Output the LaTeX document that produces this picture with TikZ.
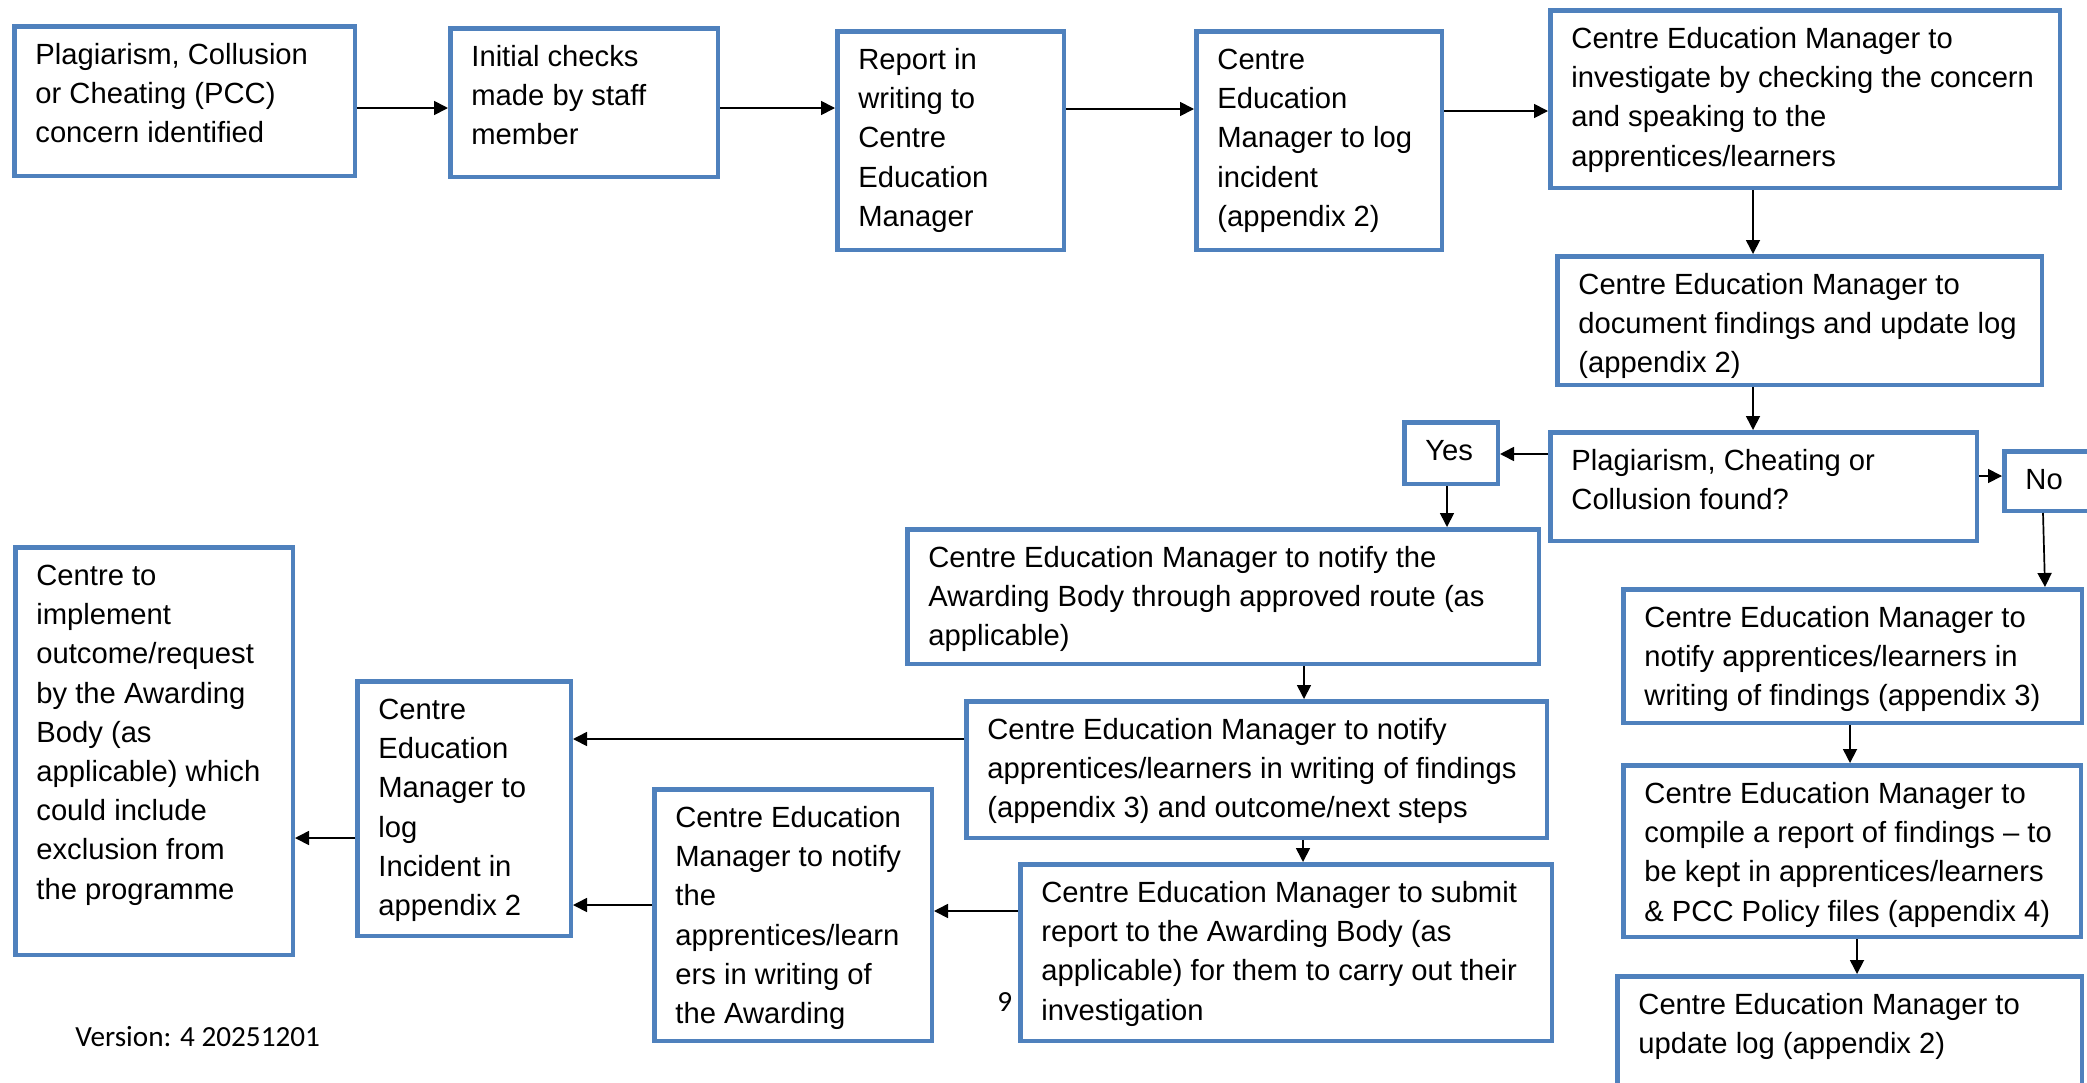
\documentclass[tikz,border=0pt]{standalone}
\usepackage{fontspec}
\setmainfont{Liberation Sans}
\newfontfamily\calib{Carlito}
\usetikzlibrary{arrows.meta,calc}
\definecolor{boxblue}{RGB}{79,129,189}
\tikzset{
 boxst/.style={draw=boxblue, line width=2.25pt, rectangle, inner sep=0pt, fill=white},
 txtst/.style={anchor=north west, inner sep=0pt, align=left, font=\fontsize{14.6pt}{19.6pt}\selectfont},
 arr/.style={line width=0.85pt, -{Triangle[length=7pt,width=7pt]}},
 smalltxt/.style={anchor=base west, inner sep=0pt, font=\calib\fontsize{14.6pt}{17pt}\selectfont},
}
\newcommand\pbox[6]{%
 \node[boxst, anchor=north west, minimum width={(#4-#2)*0.5pt-2.25pt}, minimum height={(#5-#3)*0.5pt-2.25pt}] (#1) at (#2,#3) {};
 \node[txtst] (#1t) at (#2+23,#3+12.6) {\strut #6};
}
\begin{document}
\begin{tikzpicture}[x=0.5pt,y=-0.5pt]
\useasboundingbox (0,0) rectangle (2087,1082);
\fill[white] (0,0) rectangle (2087,1082);
\clip (0,0) rectangle (2087,1082);

\pbox{b1}{12}{24}{357}{178}{Plagiarism, Collusion\\or Cheating (PCC)\\concern identified}
\pbox{b2}{448}{26}{720}{179}{Initial checks\\made by staff\\member}
\pbox{b3}{835}{29}{1066}{252}{Report in\\writing to\\Centre\\Education\\Manager}
\pbox{b4}{1194}{29}{1444}{252}{Centre\\Education\\Manager to log\\incident\\(appendix 2)}
\pbox{b5}{1548}{8}{2062}{190}{Centre Education Manager to\\investigate by checking the concern\\and speaking to the\\apprentices/learners}
\pbox{b6}{1555}{254}{2044}{387}{Centre Education Manager to\\document findings and update log\\(appendix 2)}
\pbox{dec}{1548}{430}{1979}{543}{Plagiarism, Cheating or\\Collusion found?}
\pbox{yes}{1402}{420}{1500}{486}{Yes}
\pbox{no}{2002}{449}{2100}{513}{No}
\pbox{ab}{905}{527}{1541}{666}{Centre Education Manager to notify the\\Awarding Body through approved route (as\\applicable)}
\pbox{na}{964}{699}{1549}{840}{Centre Education Manager to notify\\apprentices/learners in writing of findings\\(appendix 3) and outcome/next steps}
\pbox{sub}{1018}{862}{1554}{1043}{Centre Education Manager to submit\\report to the Awarding Body (as\\applicable) for them to carry out their\\investigation}
\pbox{nta}{652}{787}{934}{1043}{Centre Education\\Manager to notify\\the\\apprentices/learn\\ers in writing of\\the Awarding}
\pbox{log}{355}{679}{573}{938}{Centre\\Education\\Manager to\\log\\Incident in\\appendix 2}
\pbox{impl}{13}{545}{295}{957}{Centre to\\implement\\outcome/request\\by the Awarding\\Body (as\\applicable) which\\could include\\exclusion from\\the programme}
\pbox{nr}{1621}{587}{2084}{725}{Centre Education Manager to\\notify apprentices/learners in\\writing of findings (appendix 3)}
\pbox{comp}{1621}{763}{2083}{939}{Centre Education Manager to\\compile a report of findings -- to\\be kept in apprentices/learners\\\& PCC Policy files (appendix 4)}
\pbox{upd}{1615}{974}{2084}{1110}{Centre Education Manager to\\update log (appendix 2)}

\draw[arr] (b1.east |- 0,108) -- (b2.west |- 0,108);
\draw[arr] (b2.east |- 0,108) -- (b3.west |- 0,108);
\draw[arr] (b3.east |- 0,109) -- (b4.west |- 0,109);
\draw[arr] (b4.east |- 0,111) -- (b5.west |- 0,111);
\draw[arr] (b5.south -| 1753,0) -- (b6.north -| 1753,0);
\draw[arr] (b6.south -| 1753,0) -- (dec.north -| 1753,0);
\draw[arr] (dec.west |- 0,454) -- (yes.east |- 0,454);
\draw[arr] (dec.east |- 0,476) -- (no.west |- 0,476);
\draw[arr] (yes.south -| 1447,0) -- (ab.north -| 1447,0);
\draw[arr] (no.south -| 2043,0) -- (nr.north -| 2045,0);
\draw[arr] (ab.south -| 1304,0) -- (na.north -| 1304,0);
\draw[arr] (na.west |- 0,739) -- (log.east |- 0,739);
\draw[arr] (na.south -| 1303,0) -- (sub.north -| 1303,0);
\draw[arr] (sub.west |- 0,911) -- (nta.east |- 0,911);
\draw[arr] (nta.west |- 0,905) -- (log.east |- 0,905);
\draw[arr] (log.west |- 0,838) -- (impl.east |- 0,838);
\draw[arr] (nr.south -| 1850,0) -- (comp.north -| 1850,0);
\draw[arr] (comp.south -| 1857,0) -- (upd.north -| 1857,0);

\node[smalltxt] (ver) at (75,1046.5) {Version: 4 20251201};
\node[smalltxt] (pg) at (997,1011.5) {9};
\end{tikzpicture}
\end{document}
